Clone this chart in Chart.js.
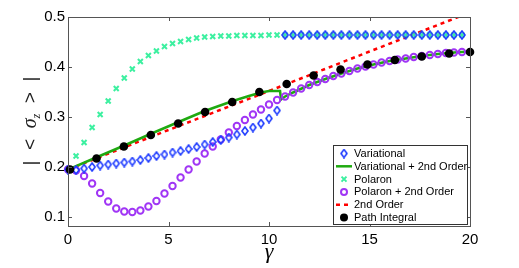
<!DOCTYPE html>
<html lang="en">
<head>
<meta charset="UTF-8">
<title>sigma_z vs gamma</title>
<script src="https://cdn.jsdelivr.net/npm/chart.js"></script>
<style>
  body { margin: 0; background: #fff; }
  #wrap { width: 519px; height: 268px; }
</style>
</head>
<body>
<div id="wrap"><canvas id="myChart"></canvas></div>
<script>
// gamma grid shared by the marker series
const gamma = [0, 0.4, 0.8, 1.2, 1.6, 2.0, 2.4, 2.8, 3.2, 3.6, 4.0, 4.4, 4.8, 5.2, 5.6, 6.0, 6.4, 6.8, 7.2, 7.6,
  8.0, 8.4, 8.8, 9.2, 9.6, 10.0, 10.4, 10.8, 11.2, 11.6, 12.0, 12.4, 12.8, 13.2, 13.6, 14.0, 14.4, 14.8, 15.2, 15.6,
  16.0, 16.4, 16.8, 17.2, 17.6, 18.0, 18.4, 18.8, 19.2, 19.6];

const variational = [0.195, 0.194, 0.197, 0.200, 0.203, 0.205, 0.207, 0.209, 0.211, 0.214, 0.218, 0.222, 0.225, 0.229,
  0.232, 0.236, 0.240, 0.245, 0.250, 0.254, 0.259, 0.265, 0.272, 0.279, 0.287, 0.297, 0.313,
  0.464, 0.464, 0.464, 0.464, 0.464, 0.464, 0.464, 0.464, 0.464, 0.464, 0.464, 0.464, 0.464, 0.464, 0.464,
  0.464, 0.464, 0.464, 0.464, 0.464, 0.464, 0.464, 0.464];

const polaron = [0.195, 0.222, 0.249, 0.279, 0.305, 0.332, 0.357, 0.378, 0.396, 0.411, 0.423, 0.432, 0.441, 0.447,
  0.451, 0.455, 0.458, 0.460, 0.461, 0.462, 0.462, 0.463, 0.463, 0.463, 0.463, 0.464,
  0.464, 0.464, 0.464, 0.464, 0.464, 0.464, 0.464, 0.464, 0.464, 0.464, 0.464, 0.464, 0.464, 0.464, 0.464,
  0.464, 0.464, 0.464, 0.464, 0.464, 0.464, 0.464, 0.464, 0.464];

const polaron2nd = [0.195, 0.193, 0.182, 0.167, 0.148, 0.131, 0.117, 0.111, 0.110, 0.113,
  0.121, 0.132, 0.147, 0.162, 0.179, 0.195, 0.211, 0.227, 0.241, 0.255,
  0.269, 0.282, 0.294, 0.305, 0.315, 0.325, 0.334, 0.341, 0.349, 0.357,
  0.364, 0.370, 0.376, 0.382, 0.387, 0.392, 0.397, 0.401, 0.405, 0.409,
  0.412, 0.415, 0.417, 0.420, 0.422, 0.424, 0.426, 0.428, 0.429, 0.430];

const var2ndX = [0, 1.4, 2.8, 4.1, 5.5, 6.8, 8.2, 9.0, 9.6, 10.0, 10.55, 10.6, 10.8, 11.2, 12.0, 12.8, 13.6, 14.4,
  15.2, 16.0, 16.8, 17.6, 18.4, 19.2, 20];
const var2ndY = [0.195, 0.219, 0.243, 0.266, 0.290, 0.312, 0.332, 0.342, 0.349, 0.352, 0.352, 0.335, 0.341, 0.349,
  0.364, 0.376, 0.387, 0.397, 0.405, 0.412, 0.417, 0.422, 0.426, 0.429, 0.431];

const secondX = [0, 5, 10, 15, 20];
const secondY = [0.195, 0.274, 0.352, 0.431, 0.509];

const pathX = [0.1, 1.42, 2.78, 4.12, 5.48, 6.82, 8.17, 9.52, 10.88, 12.22, 13.56, 14.9, 16.26, 17.6, 18.96, 20];
const pathY = [0.195, 0.217, 0.241, 0.264, 0.287, 0.310, 0.330, 0.350, 0.366, 0.383, 0.395, 0.405, 0.414, 0.421,
  0.427, 0.430];

const xTicks = [0, 5, 10, 15, 20];
const yTicks = [0.1, 0.2, 0.3, 0.4, 0.5];

const pts = (xs, ys) => xs.map((x, i) => ({ x: x, y: ys[i] }));

Chart.defaults.font.family = 'Liberation Sans, Arial, sans-serif';
Chart.defaults.color = '#000';

// matlab style diamond (taller than wide)
function diamond(color) {
  const c = document.createElement('canvas');
  c.width = 8; c.height = 10;
  const g = c.getContext('2d');
  g.strokeStyle = color; g.lineWidth = 1.6;
  g.beginPath();
  g.moveTo(4, 1); g.lineTo(7, 5); g.lineTo(4, 9); g.lineTo(1, 5);
  g.closePath(); g.stroke();
  return c;
}

const blue = '#1f3cff', mint = '#3cf0a0', purple = '#a035f5', red = '#ff0000', green = '#1faa10';
const diamondImg = diamond(blue);

const frame = {
  id: 'frame',
  afterDraw(chart) {
    const { ctx, chartArea: a, scales } = chart;
    ctx.save();
    ctx.strokeStyle = '#555';
    ctx.lineWidth = 1;
    ctx.strokeRect(a.left + 0.5, a.top + 0.5, a.right - a.left, a.bottom - a.top);
    ctx.beginPath();
    xTicks.forEach(v => {
      const px = Math.round(scales.x.getPixelForValue(v)) + 0.5;
      ctx.moveTo(px, a.bottom); ctx.lineTo(px, a.bottom - 4);
      ctx.moveTo(px, a.top); ctx.lineTo(px, a.top + 4);
    });
    yTicks.forEach(v => {
      const py = Math.round(scales.y.getPixelForValue(v)) + 0.5;
      ctx.moveTo(a.left, py); ctx.lineTo(a.left + 4, py);
      ctx.moveTo(a.right, py); ctx.lineTo(a.right - 4, py);
    });
    ctx.stroke();

    // x title
    ctx.fillStyle = '#000';
    ctx.font = 'italic 22px Liberation Serif';
    ctx.textAlign = 'center';
    ctx.textBaseline = 'alphabetic';
    ctx.fillText('\u03b3', (a.left + a.right) / 2, 258);

    // y title, rotated
    ctx.save();
    ctx.fillStyle = '#222';
    ctx.translate(36, 121);
    ctx.rotate(-Math.PI / 2);
    ctx.textBaseline = 'alphabetic';
    ctx.textAlign = 'left';
    const parts = [['|  <  ', '19px Liberation Sans', 0], ['\u03c3', 'italic 20px Liberation Serif', 0],
      ['z', 'italic 12px Liberation Serif', 4], ['  >  |', '19px Liberation Sans', 0]];
    let w = 0;
    parts.forEach(p => { ctx.font = p[1]; w += ctx.measureText(p[0]).width; });
    let x0 = -w / 2;
    parts.forEach(p => { ctx.font = p[1]; ctx.fillText(p[0], x0, p[2]); x0 += ctx.measureText(p[0]).width; });
    ctx.restore();

    // legend
    const lx = 333, ly = 145, lw = 134, lh = 79;
    ctx.fillStyle = '#fff';
    ctx.fillRect(lx, ly, lw, lh);
    ctx.strokeStyle = '#333';
    ctx.strokeRect(lx + 0.5, ly + 0.5, lw, lh);
    ctx.font = '11px Liberation Sans';
    ctx.textAlign = 'left';
    ctx.textBaseline = 'middle';
    chart.data.datasets.forEach(ds => {
      const ry = ly + 8.5 + ds.legendRow * 12.8;
      const mx = 344;
      ctx.save();
      if (ds.legendKind === 'diamond') {
        ctx.drawImage(diamondImg, mx - 4, ry - 5);
      } else if (ds.legendKind === 'line') {
        ctx.strokeStyle = ds.borderColor; ctx.lineWidth = 2.5;
        ctx.setLineDash(ds.borderDash || []);
        ctx.beginPath(); ctx.moveTo(336, ry); ctx.lineTo(352, ry); ctx.stroke();
      } else if (ds.legendKind === 'cross') {
        ctx.strokeStyle = mint; ctx.lineWidth = 2;
        ctx.beginPath();
        ctx.moveTo(mx - 2.5, ry - 2.5); ctx.lineTo(mx + 2.5, ry + 2.5);
        ctx.moveTo(mx + 2.5, ry - 2.5); ctx.lineTo(mx - 2.5, ry + 2.5);
        ctx.stroke();
      } else if (ds.legendKind === 'ring') {
        ctx.strokeStyle = purple; ctx.lineWidth = 2;
        ctx.beginPath(); ctx.arc(mx, ry, 3, 0, Math.PI * 2); ctx.stroke();
      } else {
        ctx.fillStyle = '#000';
        ctx.beginPath(); ctx.arc(mx, ry, 4, 0, Math.PI * 2); ctx.fill();
      }
      ctx.restore();
      ctx.fillStyle = '#000';
      ctx.fillText(ds.label, 354, ry + 0.5);
    });
    ctx.restore();
  }
};

new Chart(document.getElementById('myChart'), {
  type: 'scatter',
  data: {
    datasets: [
      { label: 'Path Integral', data: pts(pathX, pathY), pointRadius: 4.3, pointBackgroundColor: '#000',
        pointBorderColor: '#000', pointBorderWidth: 0, showLine: false, clip: false, order: 0,
        legendRow: 5, legendKind: 'dot' },
      { label: 'Variational', data: pts(gamma, variational), pointStyle: diamondImg, showLine: false, clip: false,
        order: 1, legendRow: 0, legendKind: 'diamond' },
      { label: 'Polaron + 2nd Order', data: pts(gamma, polaron2nd), pointRadius: 3.2, pointBorderWidth: 2,
        pointBorderColor: purple, pointBackgroundColor: 'rgba(0,0,0,0)', showLine: false, clip: false, order: 2,
        legendRow: 3, legendKind: 'ring' },
      { label: 'Polaron', data: pts(gamma, polaron), pointStyle: 'crossRot', pointRadius: 3.5, pointBorderWidth: 2,
        pointBorderColor: mint, showLine: false, clip: false, order: 3, legendRow: 2, legendKind: 'cross' },
      { label: 'Variational + 2nd Order', data: pts(var2ndX, var2ndY), showLine: true, borderColor: green,
        borderWidth: 2.5, pointRadius: 0, tension: 0, clip: 0, order: 4, legendRow: 1, legendKind: 'line' },
      { label: '2nd Order', data: pts(secondX, secondY), showLine: true, borderColor: red, borderWidth: 2.5,
        borderDash: [4, 4], pointRadius: 0, tension: 0, clip: 0, order: 5, legendRow: 4, legendKind: 'line' }
    ]
  },
  options: {
    responsive: true,
    maintainAspectRatio: false,
    animation: false,
    layout: { padding: { left: 0, top: 17, right: 49, bottom: 0 } },
    plugins: { legend: { display: false }, tooltip: { enabled: false } },
    scales: {
      x: {
        type: 'linear', min: 0, max: 20,
        grid: { display: false, drawTicks: false },
        border: { display: false },
        afterBuildTicks: s => { s.ticks = xTicks.map(v => ({ value: v })); },
        afterFit: s => { s.height = 42; },
        ticks: { font: { size: 15 }, padding: 5, maxRotation: 0 }
      },
      y: {
        type: 'linear', min: 0.082, max: 0.5,
        grid: { display: false, drawTicks: false },
        border: { display: false },
        afterBuildTicks: s => { s.ticks = yTicks.map(v => ({ value: v })); },
        afterFit: s => { s.width = 68; },
        ticks: { font: { size: 15 }, padding: 3, callback: v => v.toFixed(1) }
      }
    }
  },
  plugins: [frame]
});
</script>
</body>
</html>
